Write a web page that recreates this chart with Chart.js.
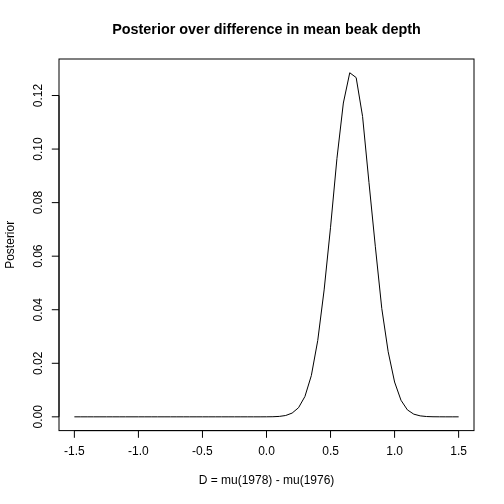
<!DOCTYPE html>
<html>
<head>
<meta charset="utf-8">
<script src="https://cdn.jsdelivr.net/npm/chart.js@4/dist/chart.umd.min.js"></script>
<style>
  html, body { margin: 0; padding: 0; background: #fff; }
  #wrap { width: 504px; height: 504px; }
</style>
</head>
<body>
<div id="wrap"><canvas id="posteriorChart" width="504" height="504"></canvas></div>
<script>
// grille des differences D = mu(1978) - mu(1976)
const dValues = [
  -1.5, -1.45, -1.4, -1.35, -1.3, -1.25, -1.2, -1.15, -1.1, -1.05,
  -1.0, -0.95, -0.9, -0.85, -0.8, -0.75, -0.7, -0.65, -0.6, -0.55,
  -0.5, -0.45, -0.4, -0.35, -0.3, -0.25, -0.2, -0.15, -0.1, -0.05,
  0.0, 0.05, 0.1, 0.15, 0.2, 0.25, 0.3, 0.35, 0.4, 0.45,
  0.5, 0.55, 0.6, 0.65, 0.7, 0.75, 0.8, 0.85, 0.9, 0.95,
  1.0, 1.05, 1.1, 1.15, 1.2, 1.25, 1.3, 1.35, 1.4, 1.45, 1.5
];
// posterior
const posterior = [
  0, 0, 0, 0, 0, 0, 0, 0, 0, 0,
  0, 0, 0, 0, 0, 0, 0, 0, 0, 0,
  0, 0, 0, 0, 0, 0, 0, 0, 0, 0.000002,
  0.00001, 0.00004, 0.00016, 0.0005, 0.0014, 0.0034, 0.0076, 0.0154, 0.0285, 0.0474,
  0.0708, 0.0965, 0.1172, 0.1285, 0.1267, 0.1122, 0.0875, 0.0635, 0.0405, 0.0243,
  0.0130, 0.0062, 0.0026, 0.0010, 0.00036, 0.00011, 0.00003, 0.00001, 0, 0, 0
];
const xTicks = [-1.5, -1.0, -0.5, 0.0, 0.5, 1.0, 1.5];
const xTickLabels = ['-1.5', '-1.0', '-0.5', '0.0', '0.5', '1.0', '1.5'];
const yTicks = [0, 0.02, 0.04, 0.06, 0.08, 0.10, 0.12];
const yTickLabels = ['0.00', '0.02', '0.04', '0.06', '0.08', '0.10', '0.12'];

const titleText = 'Posterior over difference in mean beak depth';
const xTitle = 'D = mu(1978) - mu(1976)';
const yTitle = 'Posterior';

const FONT = "'Liberation Sans', Arial, sans-serif";

// axes style R : boite + graduations a l'exterieur
const rAxes = {
  id: 'rAxes',
  afterDraw(chart) {
    const ctx = chart.ctx;
    const a = chart.chartArea;
    const xs = chart.scales.x, ys = chart.scales.y;
    ctx.save();
    ctx.strokeStyle = '#000';
    ctx.fillStyle = '#000';
    ctx.lineWidth = 1;

    // boite
    ctx.strokeRect(a.left, a.top, a.right - a.left, a.bottom - a.top);

    // axe x
    ctx.beginPath();
    ctx.moveTo(xs.getPixelForValue(xTicks[0]), a.bottom);
    ctx.lineTo(xs.getPixelForValue(xTicks[xTicks.length - 1]), a.bottom);
    xTicks.forEach(v => {
      const px = xs.getPixelForValue(v);
      ctx.moveTo(px, a.bottom);
      ctx.lineTo(px, a.bottom + 7.2);
    });
    // axe y
    ctx.moveTo(a.left, ys.getPixelForValue(yTicks[0]));
    ctx.lineTo(a.left, ys.getPixelForValue(yTicks[yTicks.length - 1]));
    yTicks.forEach(v => {
      const py = ys.getPixelForValue(v);
      ctx.moveTo(a.left, py);
      ctx.lineTo(a.left - 7.2, py);
    });
    ctx.stroke();

    ctx.font = '12px ' + FONT;
    ctx.textAlign = 'center';
    ctx.textBaseline = 'middle';
    xTicks.forEach((v, i) => {
      ctx.fillText(xTickLabels[i], xs.getPixelForValue(v), a.bottom + 21.5);
    });
    yTicks.forEach((v, i) => {
      ctx.save();
      ctx.translate(a.left - 20, ys.getPixelForValue(v));
      ctx.rotate(-Math.PI / 2);
      ctx.fillText(yTickLabels[i], 0, 0);
      ctx.restore();
    });

    // titres des axes
    ctx.fillText(xTitle, (a.left + a.right) / 2, a.bottom + 50.5);
    ctx.save();
    ctx.translate(a.left - 48, (a.top + a.bottom) / 2);
    ctx.rotate(-Math.PI / 2);
    ctx.fillText(yTitle, 0, 0);
    ctx.restore();

    // titre principal
    ctx.font = 'bold 14.4px ' + FONT;
    ctx.fillText(titleText, (a.left + a.right) / 2, 30);
    ctx.restore();
  }
};

const yMax = 0.1285;

new Chart(document.getElementById('posteriorChart'), {
  type: 'line',
  data: {
    datasets: [{
      data: dValues.map((d, i) => ({ x: d, y: posterior[i] })),
      borderColor: '#000',
      borderWidth: 1,
      pointRadius: 0,
      tension: 0,
      fill: false
    }]
  },
  options: {
    responsive: false,
    devicePixelRatio: 1,
    animation: false,
    events: [],
    layout: { padding: { left: 59, top: 59, right: 30, bottom: 73.4 } },
    plugins: { legend: { display: false }, title: { display: false }, tooltip: { enabled: false } },
    scales: {
      x: { type: 'linear', display: false, min: -1.62, max: 1.62 },
      y: { type: 'linear', display: false, min: -0.04 * yMax, max: 1.04 * yMax }
    }
  },
  plugins: [rAxes]
});
</script>
</body>
</html>
